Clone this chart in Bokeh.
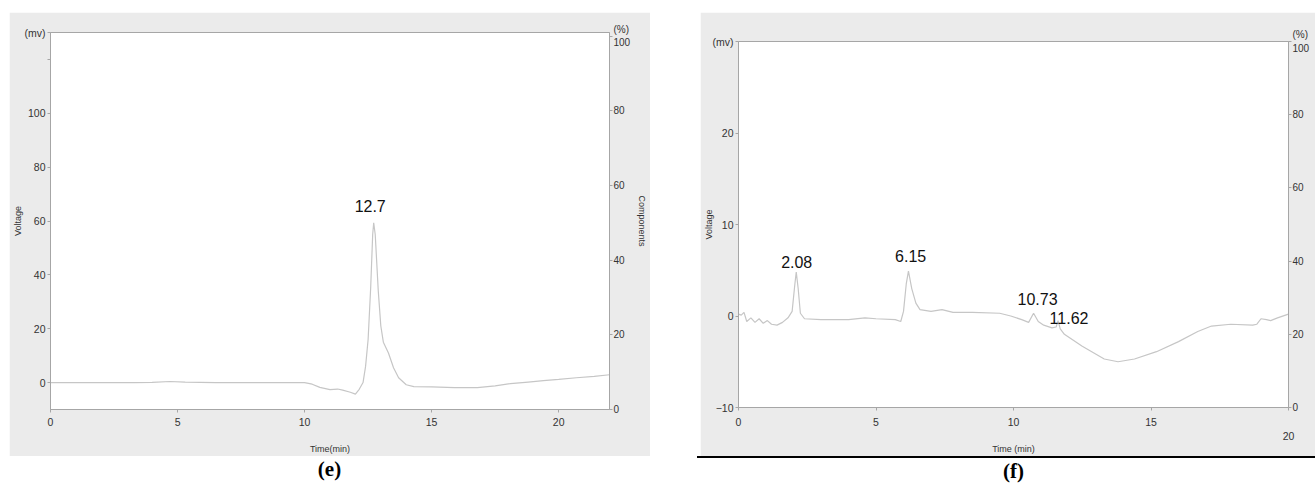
from bokeh.plotting import figure
from bokeh.models import Range1d, LinearAxis, FixedTicker, Div
from bokeh.models import ColumnDataSource
from bokeh.layouts import row, column
from bokeh.core.properties import value
from bokeh.embed import file_html
from bokeh.resources import INLINE

# ---------------- data: panel (e) ----------------
e_time = [0, 1.5, 3.3, 4.0, 4.7, 5.3, 6.5, 8.0, 10.0, 10.3, 10.6, 11.0, 11.3, 11.5, 11.8,
          12.0, 12.15, 12.3, 12.4, 12.5, 12.6, 12.68, 12.72, 12.78, 12.9, 13.0, 13.1, 13.3,
          13.5, 13.7, 14.0, 14.3, 15.0, 15.9, 16.8, 17.5, 18.1, 18.8, 19.4, 20.0, 20.7, 21.4, 22.0]
e_mv = [0, 0, 0, 0.1, 0.4, 0.2, 0, 0, 0, -0.6, -1.8, -2.6, -2.4, -2.8, -3.6,
        -4.3, -2.5, 0, 6, 16, 35, 55, 59.3, 55, 34, 21, 15, 11,
        5.5, 1.8, -0.8, -1.5, -1.6, -1.9, -1.9, -1.2, -0.4, 0.2, 0.7, 1.2, 1.8, 2.3, 2.9]
e_peak_time = [12.7]
e_peak_mv = [59.3]
e_peak_label = ["12.7"]

e_x_ticks = [0, 5, 10, 15, 20]
e_y_ticks = [0, 20, 40, 60, 80, 100, 120, 130]
e_y_labels = {120: "", 130: "(mv)"}
e_pct_ticks = [0, 20, 40, 60, 80, 100]

# ---------------- data: panel (f) ----------------
f_time = [0, 0.1, 0.2, 0.3, 0.45, 0.6, 0.75, 0.9, 1.05, 1.2, 1.4, 1.6, 1.8, 1.95, 2.05, 2.1,
          2.17, 2.25, 2.4, 3.0, 4.0, 4.6, 5.0, 5.7, 5.9, 6.0, 6.1, 6.18, 6.3, 6.45, 6.6, 7.0,
          7.4, 7.8, 8.5, 9.5, 9.9, 10.3, 10.55, 10.73, 10.9, 11.1, 11.4, 11.55, 11.62, 11.7,
          11.85, 12.5, 13.3, 13.8, 14.4, 15.2, 16.0, 16.7, 17.2, 17.9, 18.7, 18.85, 19.0, 19.2,
          19.35, 19.6, 20.0]
f_mv = [0.2, 0.1, 0.4, -0.6, -0.2, -0.7, -0.3, -0.8, -0.5, -0.9, -1.0, -0.7, -0.2, 0.5, 3.5, 4.8,
        3.0, 0.3, -0.3, -0.4, -0.4, -0.2, -0.3, -0.4, -0.6, 0.5, 3.5, 4.9, 3.0, 1.4, 0.7, 0.5,
        0.7, 0.4, 0.4, 0.3, 0.0, -0.4, -0.7, 0.3, -0.6, -1.0, -1.3, -1.2, -0.5, -1.4,
        -2.0, -3.3, -4.7, -5.0, -4.7, -3.9, -2.8, -1.7, -1.1, -0.9, -1.0, -0.9, -0.3, -0.4,
        -0.5, -0.2, 0.2]
f_peak_time = [2.08, 6.15, 10.73, 11.62]
f_peak_mv = [4.8, 4.9, 0.3, -0.5]
f_peak_label = ["2.08", "6.15", "10.73", "11.62"]

f_x_ticks = [0, 5, 10, 15, 20]
f_x_labels = {20: "\n20"}
f_y_ticks = [-10, 0, 10, 20, 30]
f_y_labels = {30: "(mv)"}
f_pct_ticks = [0, 20, 40, 60, 80, 100]

# ---------------- styles ----------------
FONT = "Liberation Sans"
GREY_BG = "#ebebeb"
AXIS_C = "#a6a6a6"
TRACE_C = "#c6c6c6"
TXT_C = "#333333"
e_label_dx, e_label_dy = [-3], [-17]
f_label_dx, f_label_dy = [1, 3, 4, 11], [-10, -15, -14, -3]


def style_axis(ax, size="10.5px"):
    ax.axis_line_color = AXIS_C
    ax.major_tick_line_color = AXIS_C
    ax.minor_tick_line_color = None
    ax.major_tick_out = 3
    ax.major_tick_in = 0
    ax.major_label_text_font = FONT
    ax.major_label_text_font_size = size
    ax.major_label_text_color = TXT_C
    ax.major_label_standoff = 2
    ax.axis_label_text_font = FONT
    ax.axis_label_text_font_size = "9px"
    ax.axis_label_text_font_style = "normal"
    ax.axis_label_text_color = TXT_C


def make_panel(width, height, borders, xr, yr, pr, t, v, pt, pv, pl, dx, dy,
               xticks, xlabels, yticks, ylabels, pticks, xlabel, right_label,
               xlabel_standoff, ylabel_standoff):
    p = figure(width=width, height=height, x_range=Range1d(*xr), y_range=Range1d(*yr),
               output_backend="svg", toolbar_location=None,
               min_border_left=borders[0], min_border_right=borders[1],
               min_border_top=borders[2], min_border_bottom=borders[3])
    p.border_fill_color = GREY_BG
    p.background_fill_color = "white"
    p.outline_line_color = AXIS_C
    p.grid.visible = False

    p.xaxis.ticker = FixedTicker(ticks=xticks)
    p.xaxis.major_label_overrides = xlabels
    p.xaxis.axis_label = xlabel
    p.yaxis.ticker = FixedTicker(ticks=yticks)
    p.yaxis.major_label_overrides = ylabels
    p.yaxis.axis_label = "Voltage"
    style_axis(p.xaxis[0])
    style_axis(p.yaxis[0])
    p.xaxis.major_label_standoff = 5
    p.xaxis.axis_label_standoff = xlabel_standoff
    p.yaxis.axis_label_standoff = ylabel_standoff

    p.extra_y_ranges = {"pct": Range1d(*pr)}
    ra = LinearAxis(y_range_name="pct", ticker=FixedTicker(ticks=pticks),
                    major_label_overrides={100: "(%)\n100"})
    style_axis(ra, "10px")
    ra.major_label_standoff = 1
    if right_label:
        ra.axis_label = right_label
        ra.axis_label_standoff = 4
    p.add_layout(ra, "right")

    p.line(t, v, line_color=TRACE_C, line_width=1.2)
    src = ColumnDataSource(dict(t=pt, v=pv, s=pl, dx=dx, dy=dy))
    p.text(x="t", y="v", text="s", source=src, x_offset="dx", y_offset="dy",
           text_font=value(FONT), text_font_size="16px", text_color="#111111",
           text_align="center", text_baseline="alphabetic")
    return p


pe = make_panel(641, 444, (41, 41, 20, 46), (0, 22), (-10, 130), (0, 101),
                e_time, e_mv, e_peak_time, e_peak_mv, e_peak_label, e_label_dx, e_label_dy,
                e_x_ticks, {}, e_y_ticks, e_y_labels, e_pct_ticks, "Time(min)", "Components",
                15, -1)
pf = make_panel(615, 444, (38, 27, 29, 48), (0, 20), (-10, 30), (0, 100),
                f_time, f_mv, f_peak_time, f_peak_mv, f_peak_label, f_label_dx, f_label_dy,
                f_x_ticks, f_x_labels, f_y_ticks, f_y_labels, f_pct_ticks, "Time (min)", None,
                -1, -4)

cap_style = {"font-family": "Liberation Serif", "font-weight": "bold", "font-size": "21px",
             "text-align": "center", "line-height": "26px", "color": "#000"}
cap_e = Div(text="(e)", width=641, height=26, styles=cap_style)
cap_f = Div(text="(f)", width=587, height=26, styles=cap_style)
rule_f = Div(text="", width=618, height=2, styles={"background-color": "#000"})

pe.margin = (12, 0, 0, 9)
cap_e.margin = (0, 0, 0, 9)
pf.margin = (12, 0, 0, 50)
rule_f.margin = (0, 0, 0, 47)
cap_f.margin = (0, 0, 0, 70)

layout = row(column(pe, cap_e), column(pf, rule_f, cap_f))

open("out.html", "w").write(file_html(layout, INLINE))
